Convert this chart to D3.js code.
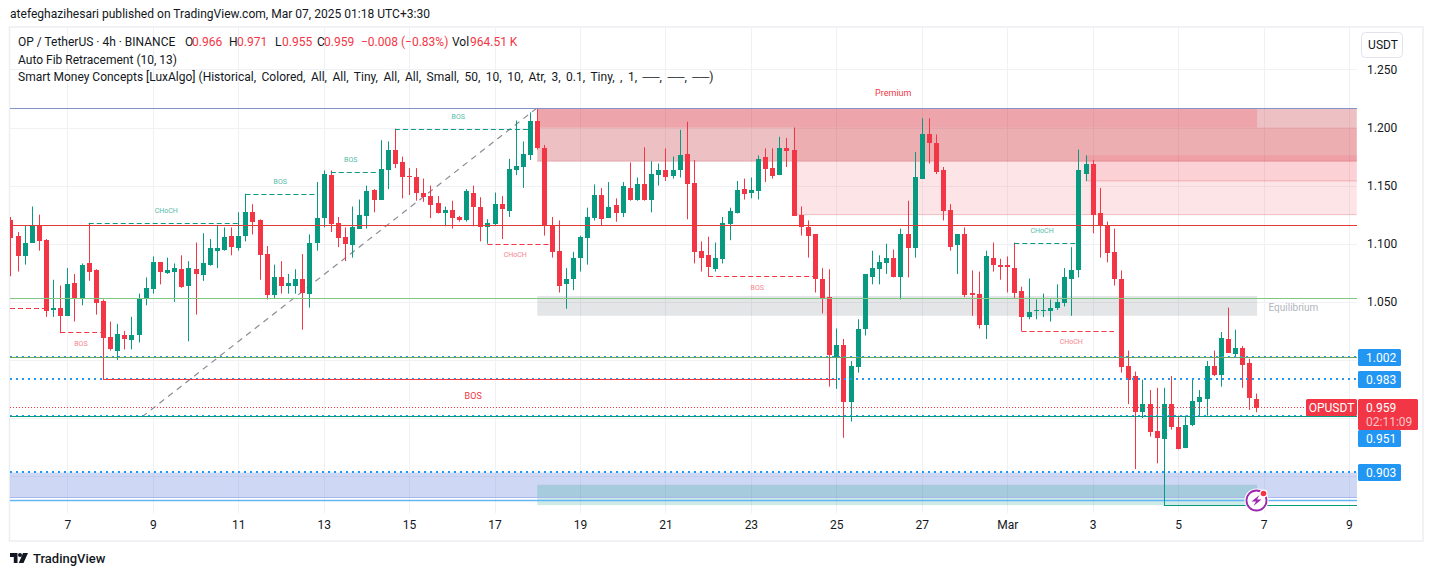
<!DOCTYPE html>
<html><head><meta charset="utf-8">
<script src="https://cdn.jsdelivr.net/npm/d3@7/dist/d3.min.js"></script>
<style>html,body{margin:0;padding:0;background:#fff;overflow:hidden}svg{display:block}text{font-family:Roboto,"Open Sans",sans-serif}</style>
</head><body><svg id="c" width="1433" height="576"></svg>
<script>
const opens=[1.120,1.107,1.089,1.101,1.115,1.103,1.043,1.045,1.038,1.066,1.052,1.083,1.077,1.051,1.020,1.008,1.021,1.017,1.021,1.052,1.061,1.084,1.075,1.076,1.078,1.064,1.078,1.073,1.082,1.094,1.095,1.107,1.096,1.107,1.127,1.120,1.091,1.056,1.071,1.064,1.064,1.070,1.057,1.101,1.122,1.159,1.118,1.106,1.099,1.113,1.124,1.146,1.138,1.163,1.181,1.170,1.158,1.157,1.144,1.141,1.135,1.126,1.129,1.123,1.120,1.144,1.132,1.114,1.117,1.134,1.128,1.163,1.166,1.176,1.206,1.182,1.116,1.094,1.065,1.070,1.088,1.105,1.122,1.142,1.122,1.133,1.126,1.148,1.138,1.151,1.138,1.159,1.163,1.158,1.163,1.177,1.152,1.094,1.090,1.078,1.087,1.117,1.126,1.147,1.144,1.145,1.175,1.165,1.159,1.182,1.181,1.125,1.114,1.108,1.070,1.054,1.002,1.013,0.964,0.994,1.027,1.071,1.078,1.083,1.088,1.071,1.108,1.096,1.156,1.194,1.187,1.163,1.129,1.099,1.108,1.058,1.057,1.030,1.088,1.082,1.082,1.079,1.059,1.037,1.042,1.042,1.042,1.045,1.049,1.070,1.077,1.160,1.169,1.126,1.116,1.093,1.070,0.995,0.986,0.955,0.962,0.939,0.932,0.962,0.942,0.924,0.944,0.964,0.966,0.995,0.987,1.018,1.005,1.010,0.997,0.966];
const highs=[1.123,1.110,1.116,1.132,1.125,1.104,1.069,1.064,1.079,1.074,1.083,1.118,1.078,1.052,1.033,1.031,1.025,1.037,1.057,1.071,1.089,1.084,1.088,1.083,1.090,1.085,1.101,1.109,1.104,1.116,1.114,1.114,1.127,1.143,1.134,1.121,1.098,1.082,1.085,1.074,1.078,1.091,1.108,1.153,1.163,1.163,1.123,1.114,1.132,1.138,1.150,1.147,1.189,1.188,1.199,1.175,1.165,1.165,1.156,1.150,1.141,1.132,1.137,1.124,1.147,1.150,1.140,1.121,1.144,1.141,1.173,1.206,1.188,1.213,1.216,1.185,1.123,1.120,1.079,1.093,1.107,1.131,1.151,1.148,1.153,1.139,1.153,1.170,1.157,1.183,1.171,1.169,1.182,1.175,1.198,1.205,1.172,1.102,1.106,1.101,1.123,1.131,1.154,1.156,1.157,1.176,1.182,1.182,1.192,1.191,1.200,1.132,1.120,1.108,1.079,1.078,1.027,1.018,0.999,1.035,1.074,1.094,1.090,1.100,1.095,1.113,1.137,1.179,1.208,1.208,1.194,1.166,1.134,1.108,1.114,1.077,1.076,1.094,1.101,1.087,1.089,1.101,1.063,1.070,1.052,1.057,1.052,1.065,1.079,1.097,1.181,1.176,1.172,1.148,1.119,1.113,1.077,1.008,0.990,0.983,0.974,0.976,0.976,0.986,0.952,0.952,0.984,0.974,0.999,1.008,1.024,1.045,1.026,1.012,1.001,0.971];
const lows=[1.072,1.076,1.082,1.101,1.094,1.037,1.037,1.023,1.038,1.033,1.047,1.068,1.039,0.983,1.008,1.000,1.009,1.009,1.015,1.047,1.057,1.065,1.074,1.050,1.062,1.016,1.039,1.068,1.081,1.079,1.094,1.090,1.094,1.102,1.108,1.069,1.052,1.053,1.057,1.057,1.057,1.026,1.045,1.094,1.114,1.110,1.097,1.085,1.088,1.113,1.113,1.127,1.138,1.147,1.165,1.139,1.142,1.137,1.136,1.122,1.126,1.115,1.113,1.119,1.119,1.115,1.102,1.100,1.116,1.104,1.123,1.159,1.148,1.172,1.181,1.107,1.088,1.058,1.044,1.060,1.076,1.082,1.120,1.116,1.122,1.119,1.123,1.137,1.137,1.137,1.127,1.150,1.154,1.156,1.157,1.121,1.083,1.076,1.072,1.076,1.083,1.103,1.126,1.138,1.139,1.138,1.153,1.156,1.159,1.166,1.124,1.107,1.088,1.058,1.040,0.977,0.975,0.933,0.947,0.989,1.021,1.065,1.065,1.074,1.071,1.052,1.071,1.088,1.156,1.169,1.160,1.120,1.094,1.074,1.054,1.038,1.027,1.018,1.076,1.069,1.058,1.053,1.025,1.035,1.035,1.037,1.033,1.043,1.046,1.038,1.071,1.154,1.109,1.088,1.084,1.064,0.989,0.962,0.906,0.950,0.934,0.911,0.875,0.940,0.923,0.924,0.943,0.952,0.952,0.986,0.977,1.006,1.002,0.976,0.957,0.955];
const closes=[1.105,1.089,1.101,1.115,1.102,1.042,1.045,1.038,1.065,1.052,1.082,1.076,1.049,1.019,1.009,1.022,1.018,1.021,1.052,1.062,1.084,1.076,1.077,1.079,1.063,1.079,1.074,1.083,1.096,1.096,1.106,1.097,1.107,1.127,1.119,1.090,1.056,1.071,1.064,1.066,1.070,1.058,1.101,1.122,1.160,1.117,1.105,1.100,1.114,1.125,1.145,1.138,1.164,1.181,1.169,1.157,1.157,1.144,1.140,1.133,1.126,1.129,1.122,1.120,1.145,1.132,1.114,1.118,1.134,1.130,1.164,1.167,1.177,1.206,1.182,1.115,1.093,1.064,1.070,1.088,1.106,1.123,1.142,1.121,1.132,1.126,1.150,1.138,1.151,1.138,1.160,1.163,1.157,1.163,1.176,1.151,1.093,1.088,1.080,1.088,1.118,1.128,1.146,1.143,1.146,1.173,1.164,1.158,1.182,1.180,1.124,1.114,1.107,1.070,1.053,1.004,1.013,0.964,0.995,1.027,1.074,1.079,1.084,1.088,1.071,1.108,1.096,1.157,1.194,1.187,1.162,1.128,1.097,1.108,1.056,1.056,1.030,1.089,1.082,1.080,1.080,1.058,1.037,1.041,1.043,1.043,1.045,1.050,1.071,1.077,1.163,1.169,1.125,1.115,1.092,1.070,0.994,0.983,0.955,0.962,0.938,0.933,0.962,0.942,0.923,0.944,0.965,0.968,0.995,0.987,1.019,1.006,1.010,0.996,0.967,0.959];

const tickBars=[8,20,32,44,56,68,80,92,104,116,128,140,152,164,176,188];
const tickLabels=["7","9","11","13","15","17","19","21","23","25","27","Mar","3","5","7","9"];
const priceTicks=[1.25,1.2,1.15,1.1,1.05];
const gridPrices=[1.25,1.2,1.15,1.1,1.05,1.0,0.95,0.9];

const zoneFrom=[74,110,151,74,74,74];
const zoneTo=[189.1,189.1,189.1,175.1,175.1,175.1];
const zoneTop=[1.2165,1.200,1.176,1.2165,1.055,0.8925];
const zoneBottom=[1.171,1.125,1.154,1.200,1.038,0.875];
const zoneKind=["obDark","ob","ob2","premium","eq","disc"];

const structText=["CHoCH","BOS","BOS","BOS","CHoCH","BOS","BOS","CHoCH","CHoCH"];
const structFrom=[11,33,45,54,67,7,98,141,142];
const structTo=[32,43,52,73,76,13,113,150,155];
const structPrice=[1.118,1.143,1.162,1.199,1.100,1.024,1.072,1.101,1.025];
const structBull=[true,true,true,true,false,false,false,true,false];
const structLabelBar=[21.9,37.9,47.8,62.9,70.9,9.9,104.9,144.9,149];

const fibBars=[18.5,74];
const fibPrices=[0.951,1.217];

const tagPrices=[1.002,0.983,0.903];
const tagNudged=0.951;
const lastPrice=0.959;

const W=1433,H=576,L=10,R=1357,T=28,B=513;
const UP="#089981",DN="#f23645",BLUE="#2196f3";
const x=d3.scaleLinear().domain([0,175]).range([10.4,1256.4]);
const y=d3.scaleLinear().domain([1.25,0.85]).range([69.4,534.2]);
const svg=d3.select("#c");
svg.append("defs").append("clipPath").attr("id","pane").append("rect").attr("x",L).attr("y",T).attr("width",R-L).attr("height",B-T);

// frame
svg.append("rect").attr("x",9.5).attr("y",27).attr("width",1413.5).attr("height",514).attr("fill","#fff").attr("stroke","#eceef2").attr("stroke-width",1.5);
svg.append("text").attr("x",10).attr("y",18).attr("font-size",12.05).attr("fill","#131722").text("atefeghazihesari published on TradingView.com, Mar 07, 2025 01:18 UTC+3:30");

// grid
const pane=svg.append("g").attr("clip-path","url(#pane)");
pane.selectAll("line.gv").data(tickBars).join("line").attr("x1",d=>Math.round(x(d))+.5).attr("x2",d=>Math.round(x(d))+.5).attr("y1",T).attr("y2",B).attr("stroke","#f0f1f4");
pane.selectAll("line.gh").data(gridPrices).join("line").attr("x1",L).attr("x2",R).attr("y1",d=>Math.round(y(d))+.5).attr("y2",d=>Math.round(y(d))+.5).attr("stroke","#f0f1f4");

function hline(p,c,w,dash,a,b){const yy=Math.floor(y(p))+(w%2?.5:0);
 const l=pane.append("line").attr("x1",a===undefined?L:a).attr("x2",b===undefined?R:b).attr("y1",yy).attr("y2",yy).attr("stroke",c).attr("stroke-width",w);
 if(dash)l.attr("stroke-dasharray",dash);return l;}

// zones
const zoneFill={obDark:"rgba(195,45,55,.30)",ob:"rgba(242,54,69,.13)",ob2:"rgba(242,54,69,.11)",premium:"rgba(242,54,69,.20)",eq:"rgba(120,123,134,.2)",disc:"rgba(8,153,129,.2)"};
const zones=zoneKind.map((k,i)=>({k,i}));
const bandTop=0.903,bandBottom=0.882,lowLine=0.875,lightLine=0.879;
pane.append("rect").attr("x",L).attr("width",R-L).attr("y",y(bandTop)).attr("height",y(bandBottom)-y(bandTop)).attr("fill","rgba(103,131,222,.32)");
pane.selectAll("rect.z").data(zones).join("rect")
 .attr("x",d=>x(zoneFrom[d.i])).attr("width",d=>x(zoneTo[d.i])-x(zoneFrom[d.i]))
 .attr("y",d=>y(zoneTop[d.i])).attr("height",d=>y(zoneBottom[d.i])-y(zoneTop[d.i]))
 .attr("fill",d=>zoneFill[d.k]);
const zb=d3.path();
[0,1,2].forEach(i=>{zb.moveTo(x(zoneFrom[i]),y(zoneBottom[i]));zb.lineTo(x(zoneTo[i]),y(zoneBottom[i]));});
pane.append("path").attr("d",zb).attr("stroke","rgba(200,60,70,.28)").attr("fill","none");
hline(bandBottom,"#a7b7ee",1);
hline(lightLine,"#64b5f6",1.5);

// fib diagonal
pane.append("line").attr("x1",x(fibBars[0])).attr("y1",y(fibPrices[0])).attr("x2",x(fibBars[1])).attr("y2",y(fibPrices[1])).attr("stroke","#8a8d96").attr("stroke-width",1.2).attr("stroke-dasharray","6 5");

// candles
const idx=d3.range(closes.length);
const gc=pane.append("g");
gc.selectAll("line").data(idx).join("line")
 .attr("x1",i=>Math.round(x(i))+.5).attr("x2",i=>Math.round(x(i))+.5)
 .attr("y1",i=>y(highs[i])).attr("y2",i=>y(lows[i]))
 .attr("stroke",i=>closes[i]>=opens[i]?UP:DN);
gc.selectAll("rect").data(idx).join("rect")
 .attr("x",i=>Math.round(x(i))-2).attr("width",5)
 .attr("y",i=>Math.round(y(Math.max(opens[i],closes[i]))))
 .attr("height",i=>Math.max(1,Math.round(y(Math.min(opens[i],closes[i])))-Math.round(y(Math.max(opens[i],closes[i])))))
 .attr("fill",i=>closes[i]>=opens[i]?UP:DN);

// levels
hline(1.2165,"#8492c9",1);
hline(1.116,"#e53935",1);
hline(1.053,"#81c784",1);
hline(1.002,BLUE,2,"2 4");
hline(1.002,"#6aa85a",1);
hline(0.983,BLUE,2,"2 4");
hline(0.983,DN,1,null,x(13),x(116));
hline(lastPrice,DN,1,"1 2",L,1306);
hline(0.951,BLUE,2,"2 4");
hline(0.951,UP,1);
hline(0.903,BLUE,2,"2 4");
hline(lowLine,UP,1,null,x(162),R);
pane.append("line").attr("x1",Math.round(x(162))+.5).attr("x2",Math.round(x(162))+.5).attr("y1",y(0.95)).attr("y2",y(lowLine)).attr("stroke",UP);

// structure
pane.selectAll("line.s").data(structText.map((t,i)=>i)).join("line")
 .attr("x1",i=>x(structFrom[i])).attr("x2",i=>x(structTo[i]))
 .attr("y1",i=>Math.round(y(structPrice[i]))+.5).attr("y2",i=>Math.round(y(structPrice[i]))+.5)
 .attr("stroke",i=>structBull[i]?UP:DN).attr("stroke-dasharray","5 3");
hline(1.044,DN,1,"5 3",L,x(5));
svg.selectAll("text.s").data(structText.map((t,i)=>i)).join("text")
 .attr("x",i=>x(structLabelBar[i]))
 .attr("y",i=>y(structPrice[i])+(structBull[i]?-10:13.5))
 .attr("text-anchor","middle").attr("font-size",7).attr("fill",i=>structBull[i]?"#55b9a7":"#f7838d")
 .text(i=>structText[i]);
svg.append("text").attr("x",x(65)).attr("y",y(0.983)+19).attr("text-anchor","middle").attr("font-size",9).attr("fill",DN).text("BOS");
svg.append("text").attr("x",x(124)).attr("y",y(1.2297)+3).attr("text-anchor","middle").attr("font-size",9).attr("fill",DN).text("Premium");
svg.append("text").attr("x",x(180.2)).attr("y",y(1.0455)+4).attr("text-anchor","middle").attr("font-size",10).attr("fill","#b2b5be").text("Equilibrium");

// axes
const ax=d3.axisBottom(x).tickValues(tickBars).tickSize(0).tickFormat((d,i)=>tickLabels[i]);
const gx=svg.append("g").attr("transform","translate(0,517)").call(ax);
gx.select(".domain").remove();
gx.selectAll("text").attr("font-size",12).attr("fill","#131722").attr("font-family","Roboto");
const ay=d3.axisRight(y).tickValues(priceTicks).tickSize(0).tickFormat(d3.format(".3f"));
const gy=svg.append("g").attr("transform","translate(1367,0)").call(ay);
gy.select(".domain").remove();
gy.selectAll("text").attr("x",0).attr("font-size",12).attr("fill","#131722").attr("font-family","Roboto");

// USDT
svg.append("rect").attr("x",1361.5).attr("y",32.5).attr("width",41).attr("height",25).attr("rx",4).attr("fill","#fff").attr("stroke","#e0e3eb");
svg.append("text").attr("x",1383).attr("y",49).attr("text-anchor","middle").attr("font-size",12).attr("fill","#131722").text("USDT");

// tags
function tag(x0,y0,w,h,c,t){svg.append("rect").attr("x",x0).attr("y",y0).attr("width",w).attr("height",h).attr("rx",1.5).attr("fill",c);
 if(t)svg.append("text").attr("x",x0+8).attr("y",y0+13).attr("font-size",12).attr("fill","#fff").text(t);}
tagPrices.forEach(p=>{tag(1358,Math.round(y(p)-8.2),43,17,BLUE,d3.format(".3f")(p));});
tag(1358,Math.round(y(tagNudged)+13),43,17,BLUE,d3.format(".3f")(tagNudged));
tag(1358,399,60,31,DN,d3.format(".3f")(lastPrice));
svg.append("text").attr("x",1366).attr("y",426).attr("font-size",12).attr("fill","#fbc4c9").text("02:11:09");
tag(1306,399,51,17,DN,null);
svg.append("text").attr("x",1331.5).attr("y",412).attr("text-anchor","middle").attr("font-size",12).attr("fill","#fff").text("OPUSDT");

// legend
const lg=svg.append("g").attr("font-size",12).attr("fill","#131722");
lg.append("text").attr("x",18).attr("y",46).text("OP / TetherUS · 4h · BINANCE");
[["O","0.966",185,192],["H","0.971",229,237],["L","0.955",275,282],["C","0.959",317,324]].forEach(([k,v,px,vx])=>{
 lg.append("text").attr("x",px).attr("y",46).text(k);
 lg.append("text").attr("x",vx).attr("y",46).attr("fill",DN).text(v);});
lg.append("text").attr("x",361).attr("y",46).attr("fill",DN).text("−0.008 (−0.83%)");
lg.append("text").attr("x",452).attr("y",46).text("Vol");
lg.append("text").attr("x",470).attr("y",46).attr("fill",DN).text("964.51 K");
lg.append("text").attr("x",18).attr("y",63.5).text("Auto Fib Retracement (10, 13)");
const l3=lg.append("text").attr("x",18).attr("y",81);
l3.append("tspan").text("Smart Money Concepts [LuxAlgo] ");
l3.append("tspan").attr("word-spacing","2.55px").text("(Historical, Colored, All, All, Tiny, All, All, Small, 50, 10, 10, Atr, 3, 0.1, Tiny, , 1, ──, ──, ──)");

// lightning
const ic=svg.append("g").attr("transform","translate(1256.5,500.5)");
ic.append("circle").attr("r",12).attr("fill","#fff");
ic.append("circle").attr("r",10).attr("fill","#fff").attr("stroke","#9c27b0").attr("stroke-width",1.8);
ic.append("path").attr("d","M3-5.5L-5 1H-.5L-3 5.5L5-1H.5Z").attr("fill","#9c27b0");
ic.append("circle").attr("cx",7).attr("cy",-7).attr("r",4).attr("fill","#fff");
ic.append("circle").attr("cx",7).attr("cy",-7).attr("r",2.8).attr("fill",DN);

// logo
const lo=svg.append("g").attr("transform","translate(10,553)").attr("fill","#131722");
lo.append("path").attr("d","M0 0H7.5V10H3.8V4H0Z");
lo.append("circle").attr("cx",10).attr("cy",2).attr("r",2);
lo.append("path").attr("d","M13 0H18L13.5 10H8.8Z");
svg.append("text").attr("x",33).attr("y",563).attr("font-size",13).attr("font-weight",500).attr("fill","#131722").text("TradingView");
</script></body></html>
